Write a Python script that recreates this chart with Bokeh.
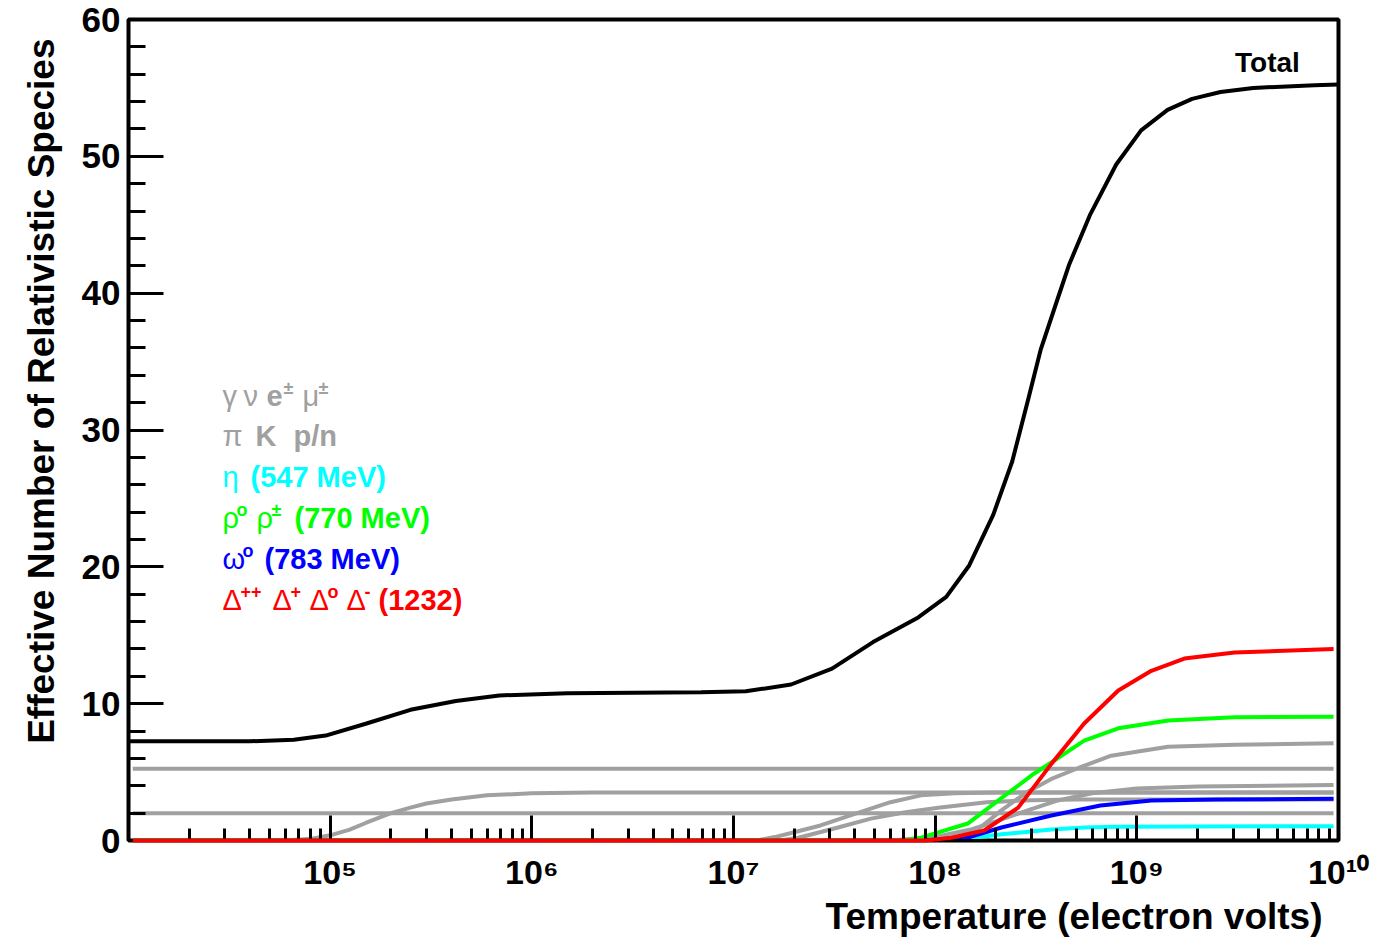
from bokeh.plotting import figure
from bokeh.models import (Range1d, FixedTicker, SingleIntervalTicker, CustomJSTickFormatter, Label, Title)
from bokeh.embed import file_html
from bokeh.resources import INLINE
import math

# ---------------- data ----------------
photon_T = [1.05e4, 9.45e9]
photon_N = [2.0, 2.0]
neutrino_T = [1.05e4, 9.45e9]
neutrino_N = [5.25, 5.25]
electron_T = [1.05e4, 6.0e4, 8.0e4, 1.0e5, 1.25e5, 1.5e5, 2.0e5, 2.5e5, 3.0e5, 4.0e5, 6.0e5, 1.0e6, 2.0e6, 9.45e9]
electron_N = [0, 0, 0.12, 0.38, 0.8, 1.28, 2.0, 2.4, 2.7, 3.0, 3.3, 3.45, 3.5, 3.5]
muon_T = [1.05e4, 1.3e7, 1.6e7, 2.0e7, 2.7e7, 4.0e7, 6.0e7, 8.5e7, 1.25e8, 2.0e8, 9.45e9]
muon_N = [0, 0, 0.25, 0.6, 1.1, 1.95, 2.8, 3.3, 3.45, 3.5, 3.5]
pion_T = [1.05e4, 1.7e7, 2.1e7, 3.3e7, 4.8e7, 7.0e7, 1.035e8, 1.8e8, 3.0e8, 5.0e8, 9.45e9]
pion_N = [0, 0, 0.2, 0.95, 1.6, 2.05, 2.4, 2.8, 2.95, 3.0, 3.0]
kaon_T = [1.05e4, 6.0e7, 1.0e8, 1.5e8, 2.0e8, 3.0e8, 4.0e8, 6.0e8, 1.0e9, 2.0e9, 9.45e9]
kaon_N = [0, 0, 0.25, 0.8, 1.4, 2.3, 2.9, 3.45, 3.8, 3.95, 4.05]
nucleon_T = [1.05e4, 1.07e8, 1.35e8, 1.69e8, 2.13e8, 2.83e8, 3.77e8, 5.13e8, 7.46e8, 1.43e9, 3.05e9, 9.45e9]
nucleon_N = [0, 0, 0.3, 1.0, 2.2, 3.5, 4.5, 5.3, 6.2, 6.85, 7.0, 7.1]
eta_T = [1.05e4, 8.0e7, 1.45e8, 2.13e8, 3.77e8, 5.5e8, 8.0e8, 9.45e9]
eta_N = [0, 0, 0.15, 0.45, 0.8, 0.95, 1.0, 1.05]
omega_T = [1.05e4, 8.5e7, 1.45e8, 2.13e8, 3.77e8, 6.6e8, 1.18e9, 2.5e9, 9.45e9]
omega_N = [0, 0, 0.22, 0.95, 1.83, 2.56, 2.92, 3.0, 3.05]
rho_T = [1.05e4, 7.0e7, 8.5e7, 9.9e7, 1.45e8, 2.13e8, 3.1e8, 3.77e8, 5.48e8, 8.09e8, 1.43e9, 3.05e9, 9.45e9]
rho_N = [0, 0, 0.2, 0.5, 1.24, 3.1, 4.9, 5.7, 7.3, 8.2, 8.77, 9.0, 9.05]
delta_T = [1.05e4, 9.0e7, 1.2e8, 1.75e8, 2.58e8, 3.77e8, 5.48e8, 8.09e8, 1.18e9, 1.72e9, 3.05e9, 9.45e9]
delta_N = [0, 0, 0.2, 0.73, 2.4, 5.6, 8.55, 10.96, 12.4, 13.3, 13.74, 14.0]
total_T = [1.0e4, 4.0e4, 6.6e4, 9.5e4, 1.5e5, 2.5e5, 4.2e5, 6.9e5, 1.5e6, 6.9e6, 1.15e7, 1.93e7,
           3.08e7, 4.92e7, 8.24e7, 1.135e8, 1.475e8, 1.94e8, 2.41e8, 2.9e8, 3.34e8, 4.03e8, 4.62e8,
           5.85e8, 7.9e8, 1.05e9, 1.42e9, 1.88e9, 2.6e9, 3.78e9, 7.6e9, 1.0e10]
total_N = [7.25, 7.25, 7.36, 7.67, 8.53, 9.55, 10.2, 10.6, 10.77, 10.84, 10.9, 11.4,
           12.56, 14.5, 16.3, 17.8, 20.1, 23.8, 27.7, 32.3, 35.9, 39.5, 42.1,
           45.7, 49.4, 51.9, 53.4, 54.2, 54.7, 55.0, 55.2, 55.25]

x_tick_values = [1e4, 1e5, 1e6, 1e7, 1e8, 1e9, 1e10]
x_tick_labels = ["", "10⁵", "10⁶", "10⁷", "10⁸", "10⁹", "10¹⁰"]
x_title = "Temperature (electron volts)"
y_title = "Effective Number of Relativistic Species"

GRAY = "#a0a0a0"
FONT = "Liberation Sans"

W, H = 1380, 942
FL, FR, FT, FB = 128, 1338, 19, 840   # frame edges in page pixels
XMIN, XMAX, YMIN, YMAX = 1e4, 1e10, 0.0, 60.0

p = figure(width=W, height=H, x_axis_type="log", output_backend="svg", toolbar_location=None,
           x_range=Range1d(XMIN, XMAX), y_range=Range1d(YMIN, YMAX),
           min_border_left=FL, min_border_right=W - FR, min_border_top=FT, min_border_bottom=H - FB)
p.background_fill_color = "white"
p.border_fill_color = "white"
p.grid.visible = False
p.outline_line_color = "black"
p.outline_line_width = 4

# y axis
ya = p.yaxis[0]
ya.ticker = SingleIntervalTicker(interval=10, num_minor_ticks=5)
ya.major_tick_in = 35
ya.major_tick_out = 0
ya.minor_tick_in = 17
ya.minor_tick_out = 0
ya.axis_line_width = 3
ya.major_tick_line_width = 3
ya.minor_tick_line_width = 3
ya.major_label_text_font = FONT
ya.major_label_text_font_style = "bold"
ya.major_label_text_font_size = "35px"
ya.major_label_text_color = "black"
ya.major_label_standoff = 8

# x axis
minor_x = [m * 10.0 ** k for k in range(4, 10) for m in range(2, 10)]
xa = p.xaxis[0]
xa.ticker = FixedTicker(ticks=x_tick_values, minor_ticks=minor_x)
xa.formatter = CustomJSTickFormatter(args=dict(vals=x_tick_values, labs=x_tick_labels), code="""
    for (let i = 0; i < vals.length; i++) {
        if (Math.abs(Math.log10(vals[i]) - Math.log10(tick)) < 1e-6) return labs[i];
    }
    return '';
""")
xa.major_tick_in = 25
xa.major_tick_out = 0
xa.minor_tick_in = 12
xa.minor_tick_out = 0
xa.axis_line_width = 3
xa.major_tick_line_width = 3
xa.minor_tick_line_width = 3
xa.major_label_text_font = FONT
xa.major_label_text_font_style = "bold"
xa.major_label_text_font_size = "34px"
xa.major_label_text_color = "black"
xa.major_label_standoff = 12

# axis titles as side-panel titles (aligned towards the far ends like the original)
p.add_layout(Title(text=x_title, align="right", offset=16, standoff=0,
                   text_font=FONT, text_font_style="bold", text_font_size="37px",
                   text_color="black"), "below")
p.add_layout(Title(text=y_title, align="right", offset=19, standoff=33,
                   text_font=FONT, text_font_style="bold", text_font_size="37px",
                   text_color="black"), "left")

# curves
for T, N in [(photon_T, photon_N), (neutrino_T, neutrino_N), (electron_T, electron_N),
             (muon_T, muon_N), (pion_T, pion_N), (kaon_T, kaon_N), (nucleon_T, nucleon_N)]:
    p.line(T, N, line_color=GRAY, line_width=4)
p.line(eta_T, eta_N, line_color="#00ffff", line_width=4)
p.line(omega_T, omega_N, line_color="#0000ff", line_width=4)
p.line(rho_T, rho_N, line_color="#00ff00", line_width=4)
p.line(delta_T, delta_N, line_color="#ff0000", line_width=4, level="overlay")
p.line(total_T, total_N, line_color="black", line_width=4)

# page pixel -> data coordinates (for placing texts)
def dx(px):
    return 10 ** (math.log10(XMIN) + (px - FL) / (FR - FL) * (math.log10(XMAX) - math.log10(XMIN)))

def dy(py):
    return YMIN + (FB - py) / (FB - FT) * (YMAX - YMIN)

def text(x, y, s, size, style="bold", color="black", align="left", baseline="middle"):
    p.add_layout(Label(x=x, y=y, x_units="data", y_units="data", text=s,
                       text_align=align, text_baseline=baseline,
                       text_color=color, text_font=FONT, text_font_style=style,
                       text_font_size=size))

# Total label
text(dx(1267), dy(62), "Total", "28px", align="center")

# cut-off letters on the right
for py in [675, 720]:
    text(dx(1362), dy(py), "P", "40px")

# species legend
legend_rows = [
    (GRAY, 395, [("γ", 222, "g"), ("ν", 243, "g"), ("e", 266, "b"), ("±", 283, "s"),
                 ("μ", 302, "g"), ("±", 318, "s")]),
    (GRAY, 435, [("π", 222, "g"), ("K", 255, "b"), ("p/n", 293, "b")]),
    ("#00ffff", 476, [("η", 222, "g"), ("(547 MeV)", 250, "b")]),
    ("#00ff00", 517, [("ρ", 222, "g"), ("o", 236, "s"), ("ρ", 256, "g"), ("±", 271, "s"),
                      ("(770 MeV)", 294, "b")]),
    ("#0000ff", 558, [("ω", 222, "g"), ("o", 242, "s"), ("(783 MeV)", 264, "b")]),
    ("#ff0000", 599, [("Δ", 222, "g"), ("++", 240, "s"), ("Δ", 272, "g"), ("+", 290, "s"),
                      ("Δ", 309, "g"), ("o", 327, "s"), ("Δ", 346, "g"), ("-", 364, "s"),
                      ("(1232)", 378, "b")]),
]
for color, ymid, segs in legend_rows:
    for s, xleft, kind in segs:
        if kind == "s":
            text(dx(xleft), dy(ymid - 8), s, "18px", color=color)
        elif kind == "g":
            text(dx(xleft), dy(ymid), s, "29px", style="normal", color=color)
        else:
            text(dx(xleft), dy(ymid), s, "29px", color=color)

open("out.html", "w").write(file_html(p, INLINE))
